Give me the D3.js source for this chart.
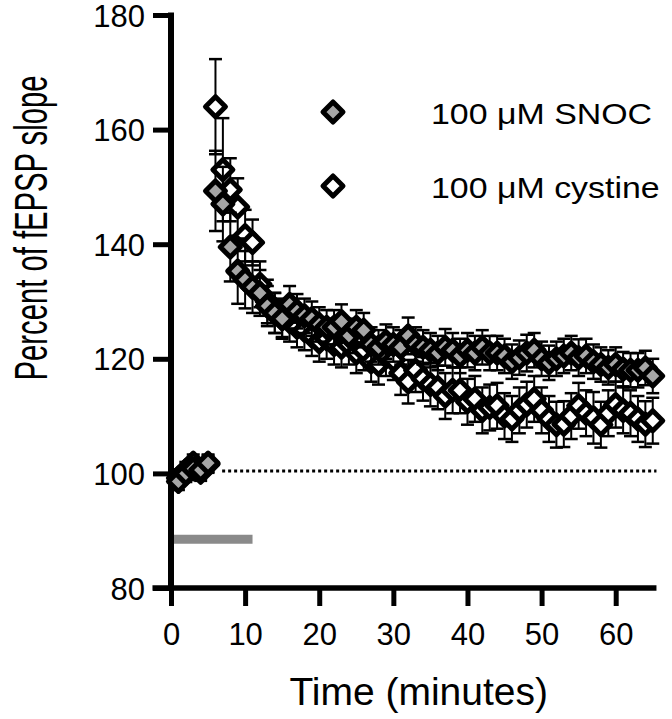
<!DOCTYPE html>
<html>
<head>
<meta charset="utf-8">
<script src="https://cdn.jsdelivr.net/npm/d3@7"></script>
<style>
  html, body { margin: 0; padding: 0; background: #fff; }
  svg { display: block; }
  text { font-family: "Liberation Sans", Arial, Helvetica, sans-serif; fill: #000; }
</style>
</head>
<body>
<svg id="chart" width="672" height="719"></svg>
<script>
// ---- data ----
const seriesNames = ["100 \u03bcM SNOC", "100 \u03bcM cystine"];
const xTickLabels = [0, 10, 20, 30, 40, 50, 60];
const yTickLabels = [80, 100, 120, 140, 160, 180];

const timeMin = [1,2,3,4,5,6,7,8,9,10,11,12,13,14,15,16,17,18,19,20,
  21,22,23,24,25,26,27,28,29,30,31,32,33,34,35,36,37,38,39,40,
  41,42,43,44,45,46,47,48,49,50,51,52,53,54,55,56,57,58,59,60,
  61,62,63,64,65];

const snocMean = [98.6,100.0,100.8,100.6,101.8,149.3,147.0,139.5,135.3,133.8,
  132.5,131.5,129.2,128.0,127.0,129.5,128.3,127.5,127.0,126.0,
  125.5,125.5,126.5,124.0,125.5,125.0,122.5,122.0,123.0,122.5,
  122.0,124.0,122.5,122.0,121.5,121.0,122.0,121.5,120.5,121.5,
  121.0,122.0,121.0,121.0,120.5,119.5,120.2,121.0,121.5,120.0,
  119.3,120.0,120.5,121.0,120.2,120.5,119.5,119.0,118.5,119.0,
  118.2,118.0,118.0,118.4,117.0];
const snocErr = [1.5,1.5,1.5,1.5,1.5,7.0,6.5,6.0,5.7,5.0,
  4.5,4.0,3.5,3.5,3.2,3.2,3.0,3.0,3.0,3.0,
  3.0,3.0,3.0,3.0,3.0,3.0,3.0,3.0,3.0,3.0,
  3.0,3.2,3.0,3.0,3.0,3.0,3.2,3.0,3.0,3.0,
  3.0,3.0,3.0,3.0,3.0,3.0,3.0,3.2,3.0,3.0,
  3.0,3.0,3.0,3.0,3.2,3.0,3.0,3.0,3.0,3.0,
  3.0,3.0,3.0,3.0,3.0];

const cystMean = [99.2,100.5,101.8,100.2,101.6,164.0,153.0,149.5,146.5,141.5,
  140.3,133.0,130.0,128.0,127.0,126.5,125.5,125.0,124.0,123.0,
  123.5,122.5,122.0,122.5,121.0,121.5,119.5,119.0,120.5,119.8,
  117.5,116.0,118.0,116.5,115.5,115.0,113.5,114.5,114.5,112.5,
  113.0,111.0,111.5,111.8,110.0,109.5,111.0,112.0,113.0,111.0,
  109.5,108.5,108.6,110.0,111.8,110.5,109.7,108.5,110.5,112.0,
  111.0,110.5,109.5,108.6,109.2];
const cystErr = [1.5,1.5,1.5,1.5,1.5,8.3,9.0,5.5,5.0,4.5,
  4.0,4.0,3.8,3.5,3.5,3.5,3.5,3.5,3.5,3.5,
  3.5,3.5,3.5,3.5,3.5,3.5,3.5,3.5,3.5,3.5,
  3.8,3.8,3.8,3.8,3.8,3.8,4.0,4.0,4.0,4.0,
  4.0,4.0,4.0,4.0,4.0,4.0,4.0,4.0,4.0,4.0,
  4.0,4.0,4.0,4.0,4.0,4.0,4.5,4.0,4.0,4.0,
  4.0,4.0,4.0,4.0,4.0];

const baselineLevel = 100.4;      // dotted reference line
const baselineRange = [6.9, 65.5];
const drugBarLevel = 88.5;        // application bar
const drugBarRange = [-0.3, 11];
const xAxisExtent = [-2.5, 65.5];

// ---- layout ----
const svg = d3.select("#chart");
const x = d3.scaleLinear().domain([0, 60]).range([171, 615.7]);
const y = d3.scaleLinear().domain([80, 180]).range([588, 15]);

function rows(mean, err) {
  return timeMin.map((t, i) => ({ t, v: mean[i], e: err[i] }));
}
const snoc = rows(snocMean, snocErr);
const cyst = rows(cystMean, cystErr);

const GRAY = "#a6a6a6";

// drug application bar
svg.append("line")
  .attr("x1", x(drugBarRange[0])).attr("x2", x(drugBarRange[1]))
  .attr("y1", y(drugBarLevel)).attr("y2", y(drugBarLevel))
  .attr("stroke", "#8a8a8a").attr("stroke-width", 9);

// dotted baseline
svg.append("line")
  .attr("x1", x(baselineRange[0])).attr("x2", x(baselineRange[1]))
  .attr("y1", y(baselineLevel)).attr("y2", y(baselineLevel))
  .attr("stroke", "#000").attr("stroke-width", 3)
  .attr("stroke-dasharray", "3,3");

// axes
const yAxis = d3.axisLeft(y).tickValues(yTickLabels).tickSize(18).tickSizeOuter(0).tickPadding(8);
const gy = svg.append("g").attr("transform", `translate(${x(0)},0)`).call(yAxis);
gy.select(".domain").remove();
gy.selectAll(".tick line").attr("stroke", "#000").attr("stroke-width", 5);
gy.selectAll(".tick text").attr("font-size", 31).attr("dy", "0.36em")
  .style("font-family", "'Liberation Sans', Arial, sans-serif");

const xAxis = d3.axisBottom(x).tickValues(xTickLabels).tickSize(18).tickSizeOuter(0).tickPadding(10);
const gx = svg.append("g").attr("transform", `translate(0,${y(80)})`).call(xAxis);
gx.select(".domain").remove();
gx.selectAll(".tick line").attr("stroke", "#000").attr("stroke-width", 5);
gx.selectAll(".tick text").attr("font-size", 31).attr("dy", "0.95em")
  .style("font-family", "'Liberation Sans', Arial, sans-serif");

// axis lines
svg.append("line")
  .attr("x1", x(0)).attr("x2", x(0))
  .attr("y1", y(180) - 2.5).attr("y2", y(80) + 3)
  .attr("stroke", "#000").attr("stroke-width", 6);
svg.append("line")
  .attr("x1", x(xAxisExtent[0])).attr("x2", x(xAxisExtent[1]))
  .attr("y1", y(80)).attr("y2", y(80))
  .attr("stroke", "#000").attr("stroke-width", 5.5);

// axis titles
svg.append("text")
  .attr("x", (x(0) + x(xAxisExtent[1])) / 2 + 5).attr("y", 705)
  .attr("text-anchor", "middle").attr("font-size", 39)
  .text("Time (minutes)");

svg.append("text")
  .attr("transform", `translate(47,228) rotate(-90) scale(0.86,1.35)`)
  .attr("text-anchor", "middle").attr("font-size", 34)
  .text("Percent of fEPSP slope");

// markers
const S = 10; // half diagonal of marker path
function diamondPath() {
  return `M0,${-S}L${S},0L0,${S}L${-S},0Z`;
}
const capW = 6.5;

function drawSeries(data, fill) {
  const g = svg.append("g");
  const eb = g.append("g");
  data.forEach(d => {
    eb.append("line")
      .attr("x1", x(d.t)).attr("x2", x(d.t))
      .attr("y1", y(d.v - d.e)).attr("y2", y(d.v + d.e))
      .attr("stroke", "#000").attr("stroke-width", 2);
    [d.v - d.e, d.v + d.e].forEach(val => {
      eb.append("line")
        .attr("x1", x(d.t) - capW).attr("x2", x(d.t) + capW)
        .attr("y1", y(val)).attr("y2", y(val))
        .attr("stroke", "#000").attr("stroke-width", 2.5);
    });
  });
  g.append("g").selectAll("path").data(data).join("path")
    .attr("d", diamondPath())
    .attr("transform", d => `translate(${x(d.t)},${y(d.v)})`)
    .attr("fill", fill).attr("stroke", "#000").attr("stroke-width", 5)
    .attr("stroke-linejoin", "round");
}
drawSeries(cyst, "#fff");
drawSeries(snoc, GRAY);

// legend
const legend = [
  { name: seriesNames[0], fill: GRAY, cy: 112 },
  { name: seriesNames[1], fill: "#fff", cy: 186 }
];
legend.forEach(l => {
  svg.append("path").attr("d", diamondPath())
    .attr("transform", `translate(333,${l.cy})`)
    .attr("fill", l.fill).attr("stroke", "#000").attr("stroke-width", 5)
    .attr("stroke-linejoin", "round");
  svg.append("text")
    .attr("transform", `translate(431,${l.cy + 12}) scale(1.13,1)`)
    .attr("font-size", 30)
    .text(l.name);
});
</script>
</body>
</html>
